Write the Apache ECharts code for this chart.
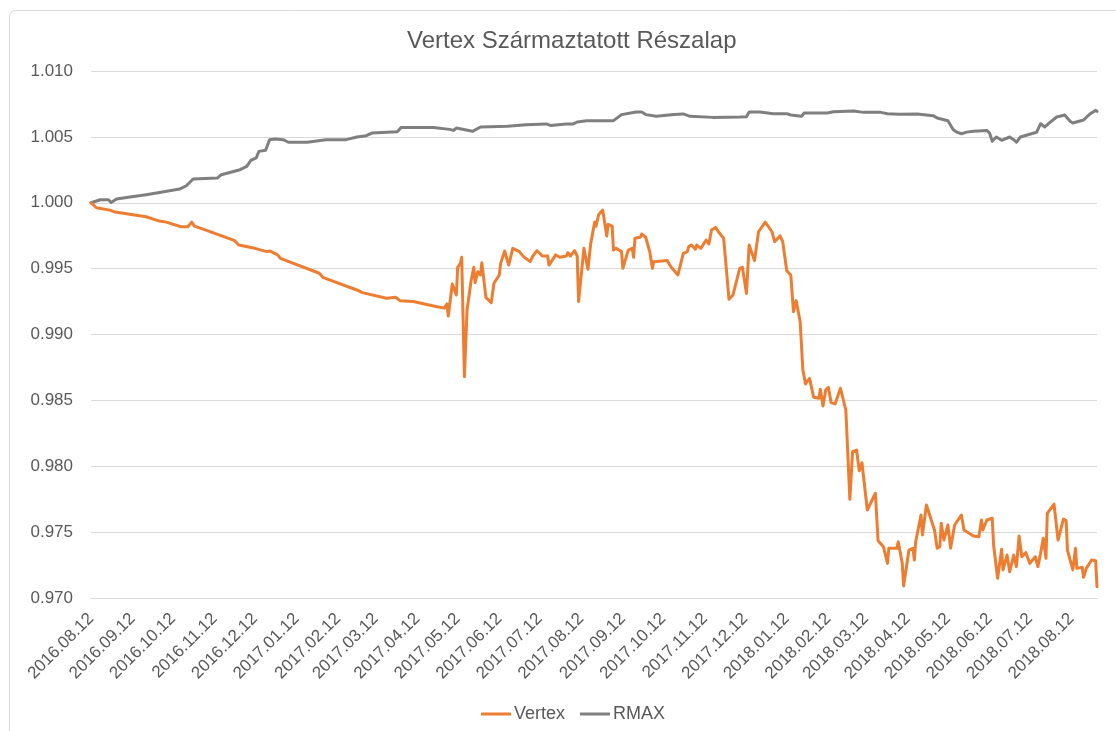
<!DOCTYPE html>
<html>
<head>
<meta charset="utf-8">
<title>Vertex Származtatott Részalap</title>
<script src="https://cdn.jsdelivr.net/npm/echarts@6/dist/echarts.min.js"></script>
<style>
    html, body { margin: 0; padding: 0; background: #fff; }
    #container { width: 1116px; height: 731px; }
</style>
</head>
<body>
<div id="container"></div>
<script>
    // labels on the x axis, one each month
    var tickDates = [
        '2016-08-12', '2016-09-12', '2016-10-12', '2016-11-12', '2016-12-12',
        '2017-01-12', '2017-02-12', '2017-03-12', '2017-04-12', '2017-05-12',
        '2017-06-12', '2017-07-12', '2017-08-12', '2017-09-12', '2017-10-12',
        '2017-11-12', '2017-12-12', '2018-01-12', '2018-02-12', '2018-03-12',
        '2018-04-12', '2018-05-12', '2018-06-12', '2018-07-12', '2018-08-12'
    ];
    var firstDate = '2016-08-12';
    var lastDate = '2018-08-31';

    var vertexDates = [
        '2016-08-12', '2016-08-16', '2016-08-26', '2016-08-30', '2016-09-22', '2016-10-02', '2016-10-07', '2016-10-18',
        '2016-10-23', '2016-10-26', '2016-10-28', '2016-11-04', '2016-11-27', '2016-11-30', '2016-12-12', '2016-12-21',
        '2016-12-23', '2016-12-29', '2016-12-31', '2017-01-29', '2017-02-01', '2017-02-26', '2017-03-02', '2017-03-20',
        '2017-03-21', '2017-03-27', '2017-03-30', '2017-04-09', '2017-04-24', '2017-05-02', '2017-05-04', '2017-05-05',
        '2017-05-08', '2017-05-11', '2017-05-12', '2017-05-14', '2017-05-15', '2017-05-17', '2017-05-19', '2017-05-22',
        '2017-05-23', '2017-05-24', '2017-05-25', '2017-05-27', '2017-05-29', '2017-05-30', '2017-06-02', '2017-06-06',
        '2017-06-08', '2017-06-12', '2017-06-13', '2017-06-16', '2017-06-19', '2017-06-22', '2017-06-27', '2017-06-30',
        '2017-07-05', '2017-07-07', '2017-07-10', '2017-07-14', '2017-07-18', '2017-07-19', '2017-07-24', '2017-07-27',
        '2017-08-01', '2017-08-02', '2017-08-04', '2017-08-07', '2017-08-09', '2017-08-10', '2017-08-14', '2017-08-15',
        '2017-08-17', '2017-08-19', '2017-08-22', '2017-08-23', '2017-08-25', '2017-08-28', '2017-08-31', '2017-09-01',
        '2017-09-04', '2017-09-05', '2017-09-07', '2017-09-11', '2017-09-12', '2017-09-16', '2017-09-19', '2017-09-20',
        '2017-09-21', '2017-09-25', '2017-09-26', '2017-09-29', '2017-10-02', '2017-10-04', '2017-10-05', '2017-10-06',
        '2017-10-15', '2017-10-18', '2017-10-23', '2017-10-27', '2017-10-30', '2017-10-31', '2017-11-02', '2017-11-05',
        '2017-11-06', '2017-11-09', '2017-11-13', '2017-11-15', '2017-11-17', '2017-11-20', '2017-11-23', '2017-11-26',
        '2017-11-28', '2017-11-30', '2017-12-03', '2017-12-08', '2017-12-10', '2017-12-13', '2017-12-15', '2017-12-19',
        '2017-12-22', '2017-12-27', '2018-01-01', '2018-01-03', '2018-01-07', '2018-01-09', '2018-01-12', '2018-01-15',
        '2018-01-17', '2018-01-19', '2018-01-22', '2018-01-24', '2018-01-26', '2018-01-29', '2018-02-01', '2018-02-05',
        '2018-02-06', '2018-02-08', '2018-02-10', '2018-02-12', '2018-02-14', '2018-02-17', '2018-02-21', '2018-02-25',
        '2018-02-28', '2018-03-02', '2018-03-05', '2018-03-07', '2018-03-09', '2018-03-13', '2018-03-19', '2018-03-21',
        '2018-03-25', '2018-03-28', '2018-03-29', '2018-04-04', '2018-04-05', '2018-04-08', '2018-04-09', '2018-04-13',
        '2018-04-16', '2018-04-17', '2018-04-18', '2018-04-22', '2018-04-23', '2018-04-26', '2018-05-02', '2018-05-04',
        '2018-05-06', '2018-05-07', '2018-05-09', '2018-05-12', '2018-05-14', '2018-05-17', '2018-05-22', '2018-05-24',
        '2018-05-31', '2018-06-04', '2018-06-06', '2018-06-07', '2018-06-10', '2018-06-14', '2018-06-15', '2018-06-18',
        '2018-06-21', '2018-06-22', '2018-06-25', '2018-06-27', '2018-06-30', '2018-07-02', '2018-07-04', '2018-07-06',
        '2018-07-09', '2018-07-12', '2018-07-16', '2018-07-18', '2018-07-20', '2018-07-22', '2018-07-24', '2018-07-25',
        '2018-07-30', '2018-08-02', '2018-08-06', '2018-08-08', '2018-08-09', '2018-08-13', '2018-08-15', '2018-08-16',
        '2018-08-20', '2018-08-21', '2018-08-23', '2018-08-27', '2018-08-30', '2018-08-31'
    ];
    var vertexValues = [
        1.00000, 0.99962, 0.99944, 0.99929, 0.99894, 0.99861, 0.99853, 0.99818,
        0.99818, 0.99853, 0.99823, 0.99798, 0.99712, 0.99679, 0.99654, 0.99629,
        0.99634, 0.99604, 0.99578, 0.99465, 0.99431, 0.99338, 0.99318, 0.99275,
        0.99262, 0.99282, 0.99257, 0.99250, 0.99217, 0.99200, 0.99232, 0.99140,
        0.99383, 0.99300, 0.99510, 0.99540, 0.99586, 0.98680, 0.99186, 0.99408,
        0.99401, 0.99510, 0.99393, 0.99477, 0.99452, 0.99545, 0.99282, 0.99241,
        0.99389, 0.99452, 0.99540, 0.99634, 0.99527, 0.99654, 0.99629, 0.99591,
        0.99553, 0.99596, 0.99636, 0.99596, 0.99596, 0.99527, 0.99604, 0.99586,
        0.99596, 0.99621, 0.99596, 0.99636, 0.99596, 0.99250, 0.99654, 0.99667,
        0.99495, 0.99687, 0.99853, 0.99822, 0.99911, 0.99944, 0.99747, 0.99836,
        0.99822, 0.99641, 0.99654, 0.99629, 0.99502, 0.99641, 0.99654, 0.99586,
        0.99731, 0.99738, 0.99763, 0.99738, 0.99629, 0.99502, 0.99553, 0.99550,
        0.99561, 0.99510, 0.99452, 0.99616, 0.99629, 0.99667, 0.99679, 0.99647,
        0.99679, 0.99654, 0.99717, 0.99687, 0.99793, 0.99813, 0.99768, 0.99731,
        0.99502, 0.99267, 0.99300, 0.99502, 0.99510, 0.99312, 0.99679, 0.99561,
        0.99780, 0.99853, 0.99780, 0.99705, 0.99748, 0.99705, 0.99484, 0.99452,
        0.99173, 0.99257, 0.99097, 0.98731, 0.98625, 0.98667, 0.98524, 0.98516,
        0.98584, 0.98457, 0.98579, 0.98599, 0.98483, 0.98473, 0.98592, 0.98427,
        0.97749, 0.98111, 0.98123, 0.97966, 0.98027, 0.97668, 0.97795, 0.97435,
        0.97389, 0.97263, 0.97377, 0.97377, 0.97427, 0.97263, 0.97091, 0.97364,
        0.97377, 0.97288, 0.97427, 0.97630, 0.97478, 0.97706, 0.97516, 0.97377,
        0.97389, 0.97567, 0.97440, 0.97554, 0.97377, 0.97554, 0.97630, 0.97516,
        0.97470, 0.97465, 0.97592, 0.97516, 0.97592, 0.97605, 0.97402, 0.97150,
        0.97370, 0.97213, 0.97326, 0.97200, 0.97326, 0.97238, 0.97470, 0.97313,
        0.97344, 0.97263, 0.97313, 0.97238, 0.97339, 0.97453, 0.97301, 0.97643,
        0.97713, 0.97440, 0.97599, 0.97587, 0.97364, 0.97213, 0.97377, 0.97225,
        0.97233, 0.97157, 0.97225, 0.97288, 0.97283, 0.97086
    ];

    var rmaxDates = [
        '2016-08-12', '2016-08-19', '2016-08-25', '2016-08-27', '2016-08-31', '2016-09-10', '2016-09-22', '2016-10-02',
        '2016-10-17', '2016-10-22', '2016-10-27', '2016-11-14', '2016-11-17', '2016-12-01', '2016-12-06', '2016-12-09',
        '2016-12-13', '2016-12-15', '2016-12-20', '2016-12-23', '2016-12-27', '2017-01-02', '2017-01-06', '2017-01-20',
        '2017-02-03', '2017-02-18', '2017-02-26', '2017-03-05', '2017-03-09', '2017-03-28', '2017-03-31', '2017-04-24',
        '2017-05-06', '2017-05-09', '2017-05-11', '2017-05-23', '2017-05-29', '2017-06-18', '2017-07-02', '2017-07-17',
        '2017-07-20', '2017-08-01', '2017-08-02', '2017-08-06', '2017-08-09', '2017-08-16', '2017-08-17', '2017-09-05',
        '2017-09-11', '2017-09-22', '2017-09-26', '2017-09-29', '2017-10-07', '2017-10-20', '2017-10-27', '2017-11-01',
        '2017-11-18', '2017-12-08', '2017-12-13', '2017-12-15', '2017-12-23', '2018-01-02', '2018-01-12', '2018-01-15',
        '2018-01-23', '2018-01-25', '2018-02-11', '2018-02-16', '2018-03-03', '2018-03-10', '2018-03-23', '2018-03-28',
        '2018-04-06', '2018-04-19', '2018-05-01', '2018-05-04', '2018-05-12', '2018-05-16', '2018-05-19', '2018-05-22',
        '2018-05-26', '2018-05-31', '2018-06-10', '2018-06-12', '2018-06-14', '2018-06-17', '2018-06-21', '2018-06-27',
        '2018-06-30', '2018-07-02', '2018-07-05', '2018-07-15', '2018-07-17', '2018-07-20', '2018-07-23', '2018-07-27',
        '2018-08-01', '2018-08-07', '2018-08-11', '2018-08-13', '2018-08-21', '2018-08-26', '2018-08-30', '2018-08-31'
    ];
    var rmaxValues = [
        1.00000, 1.00023, 1.00023, 1.00002, 1.00028, 1.00043, 1.00061, 1.00078,
        1.00104, 1.00129, 1.00180, 1.00187, 1.00213, 1.00251, 1.00276, 1.00322,
        1.00340, 1.00390, 1.00398, 1.00479, 1.00484, 1.00479, 1.00459, 1.00459,
        1.00479, 1.00479, 1.00499, 1.00509, 1.00529, 1.00539, 1.00572, 1.00572,
        1.00557, 1.00549, 1.00567, 1.00542, 1.00575, 1.00580, 1.00592, 1.00598,
        1.00587, 1.00598, 1.00613, 1.00598, 1.00613, 1.00623, 1.00638, 1.00623,
        1.00669, 1.00689, 1.00689, 1.00669, 1.00656, 1.00669, 1.00674, 1.00656,
        1.00648, 1.00651, 1.00653, 1.00689, 1.00689, 1.00676, 1.00676, 1.00666,
        1.00656, 1.00681, 1.00681, 1.00691, 1.00696, 1.00686, 1.00686, 1.00676,
        1.00671, 1.00674, 1.00661, 1.00643, 1.00623, 1.00554, 1.00534, 1.00524,
        1.00536, 1.00542, 1.00549, 1.00529, 1.00466, 1.00499, 1.00474, 1.00499,
        1.00479, 1.00459, 1.00499, 1.00529, 1.00534, 1.00600, 1.00575, 1.00610,
        1.00651, 1.00666, 1.00618, 1.00605, 1.00628, 1.00676, 1.00701, 1.00694
    ];

    function toTime(d) {
        return echarts.number.parseDate(d).getTime();
    }
    function pairs(dates, values) {
        var out = [];
        for (var i = 0; i < dates.length; i++) {
            out.push([toTime(dates[i]), values[i]]);
        }
        return out;
    }

    var dom = document.getElementById('container');
    var myChart = echarts.init(dom, null, {renderer: 'canvas'});
    var fontName = '"Liberation Sans", Arial, sans-serif';

    var option = {
        backgroundColor: '#ffffff',
        animation: false,
        color: ['#ed7d31', '#7f7f7f'],
        title: {
            text: 'Vertex Származtatott Részalap',
            left: 402,
            top: 24,
            textStyle: {
                fontFamily: fontName,
                fontSize: 24,
                fontWeight: 'normal',
                color: '#595959'
            }
        },
        graphic: [{
            type: 'rect',
            silent: true,
            shape: {x: 9.5, y: 10.5, width: 1130, height: 750, r: 6},
            style: {fill: 'none', stroke: '#d9d9d9', lineWidth: 1}
        }],
        legend: {
            data: ['Vertex', 'RMAX'],
            bottom: 3,
            left: 476,
            icon: 'rect',
            itemWidth: 30,
            itemHeight: 3,
            itemGap: 15,
            textStyle: {
                fontFamily: fontName,
                fontSize: 18,
                color: '#595959',
                padding: [0, 0, 0, -2]
            }
        },
        grid: {
            left: 91,
            right: 19,
            top: 71,
            bottom: 133,
            containLabel: false
        },
        xAxis: {
            type: 'value',
            min: toTime(firstDate),
            max: toTime(lastDate),
            axisLine: {lineStyle: {color: '#d9d9d9', width: 1}},
            axisTick: {show: false},
            splitLine: {show: false},
            axisLabel: {
                customValues: tickDates.map(toTime),
                rotate: 45,
                margin: 18,
                fontFamily: fontName,
                fontSize: 17,
                color: '#595959',
                formatter: function (value) {
                    return echarts.time.format(value, '{yyyy}.{MM}.{dd}', false);
                }
            }
        },
        yAxis: {
            type: 'value',
            min: 0.970,
            max: 1.010,
            interval: 0.005,
            axisLine: {show: false},
            axisTick: {show: false},
            splitLine: {lineStyle: {color: '#d9d9d9', width: 1}},
            axisLabel: {
                margin: 18,
                fontFamily: fontName,
                fontSize: 17,
                color: '#595959',
                formatter: function (v) { return v.toFixed(3); }
            }
        },
        series: [
            {
                name: 'Vertex',
                type: 'line',
                showSymbol: false,
                data: pairs(vertexDates, vertexValues),
                lineStyle: {width: 3, color: '#ed7d31', join: 'round', cap: 'round'},
                z: 3
            },
            {
                name: 'RMAX',
                type: 'line',
                showSymbol: false,
                data: pairs(rmaxDates, rmaxValues),
                lineStyle: {width: 3, color: '#7f7f7f', join: 'round', cap: 'round'},
                z: 2
            }
        ]
    };
    if (option && typeof option === 'object') {
        myChart.setOption(option, true);
    }
</script>
</body>
</html>
